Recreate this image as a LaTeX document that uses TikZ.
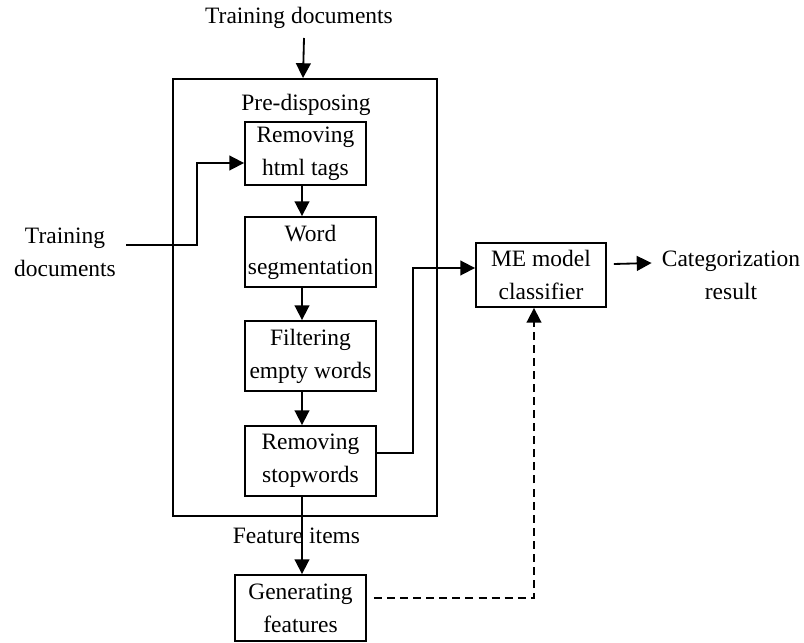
\documentclass[tikz,border=0pt]{standalone}
\usepackage{fontspec}
\setmainfont{Liberation Serif}
\usetikzlibrary{arrows.meta, calc}
\newcommand{\figfont}{\fontsize{16.7}{23.4}\selectfont}

\begin{document}
\begin{tikzpicture}[x=0.025cm, y=-0.025cm,
      stagebox/.style={draw, line width=1.3pt, inner sep=0pt, align=center, font=\figfont},
      lbl/.style={inner sep=0pt, align=center, font=\figfont},
      arrow/.style={-{Triangle[length=0.37cm, width=0.37cm]}, line width=1.3pt},
      feedback/.style={arrow, dash pattern=on 5.7pt off 3.6pt}
    ]
    \useasboundingbox (0,0) rectangle (804,643);

    % pre-disposing block
    \node[stagebox, minimum width=6.6cm, minimum height=10.925cm] (pre) at (305,297.5) {};
    \node[lbl] (pretitle) at (306,105) {Pre-disposing};
    \node[stagebox, minimum width=3.025cm, minimum height=1.575cm] (html) at (305.5,153.5) {Removing\\html tags};
    \node[stagebox, minimum width=3.275cm, minimum height=1.75cm] (seg) at (310.5,252) {Word\\segmentation};
    \node[stagebox, minimum width=3.275cm, minimum height=1.75cm] (filt) at (310.5,356) {Filtering\\empty words};
    \node[stagebox, minimum width=3.275cm, minimum height=1.75cm] (stop) at (310.5,461) {Removing\\stopwords};

    \node[stagebox, minimum width=3.275cm, minimum height=1.65cm] (gen) at (300.5,608) {Generating\\features};
    \node[stagebox, minimum width=3.25cm, minimum height=1.6cm] (me) at (541,275) {ME model\\classifier};

    % texts
    \node[lbl] (toptxt) at (299,18) {Training documents};
    \node[lbl] (lefttxt) at (65,252) {Training\\documents};
    \node[lbl] (cat) at (731,275) {Categorization\\result};
    \node[lbl] (featlbl) at (296.5,536) {Feature items};

    \coordinate (topin) at (304,38);
    \coordinate (spine) at (302,0);

    % connectors
    \draw[arrow] (topin) -- (pre.north -| 303,0);
    \draw[arrow] ($(lefttxt.east)+(10,-7)$) -- (197,245) |- ($(html.west)+(0,9.5)$);
    \draw[arrow] (html.south -| spine) -- (seg.north -| spine);
    \draw[arrow] (seg.south -| spine) -- (filt.north -| spine);
    \draw[arrow] (filt.south -| spine) -- (stop.north -| spine);
    \draw[arrow] (stop.south -| spine) -- (gen.north -| spine);
    \draw[arrow] ($(stop.east)+(0,-8)$) -- (413,453) |- ($(me.west)+(0,-7)$);
    \draw[feedback] ($(gen.east)+(7,-10)$) -| ($(me.south)+(-7,0)$);
    \draw[arrow] ($(me.east)+(7,-11)$) -- ($(cat.west)+(-10,-12)$);
  \end{tikzpicture}
\end{document}
